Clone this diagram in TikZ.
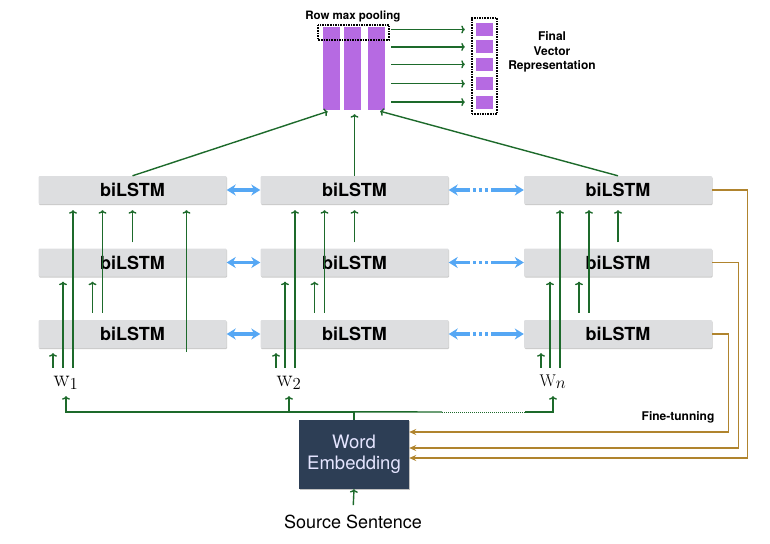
\RequirePackage{fix-cm}
\documentclass[tikz,border=0pt]{standalone}
\usepackage[no-math]{fontspec}
\setmainfont{TeX Gyre Heros}
\usepackage{xcolor}
\usepackage{tikz}
\usetikzlibrary{arrows.meta, positioning, fit, shadows, calc}
\definecolor{lstmgray}{RGB}{221, 222, 224}
\definecolor{darkgreen}{RGB}{29, 106, 43}
\definecolor{linkblue}{RGB}{85, 167, 244}
\definecolor{tunebrown}{RGB}{176, 132, 46}
\definecolor{poolpurple}{RGB}{182, 106, 226}
\definecolor{embednavy}{RGB}{45, 62, 85}

\begin{document}
\begin{tikzpicture}[
    x=1pt, y=-1pt,
    lstm/.style={rectangle, fill=lstmgray, minimum width=188pt, minimum height=28pt, rounded corners=1pt,
        drop shadow={shadow xshift=0.5pt, shadow yshift=-1pt, fill=black!35, opacity=0.6},
        font=\fontsize{18}{20}\selectfont\bfseries},
    word/.style={inner xsep=0pt, inner ysep=2pt, text height=16pt, text depth=8pt, anchor=base,
        font=\fontsize{24}{26}\selectfont},
    embed/.style={fill=embednavy, text=white!90!blue, minimum width=110pt, minimum height=69pt, align=center,
        drop shadow={shadow xshift=1pt, shadow yshift=-1pt, fill=black!40, opacity=0.6},
        font=\fontsize{18.5}{21}\selectfont},
    feed/.style={draw=darkgreen, line width=1.4pt, -{To[length=3.5pt,width=8pt]}},
    link/.style={draw=linkblue, line width=3.5pt, {Stealth[length=9pt,width=11pt]}-{Stealth[length=9pt,width=11pt]}},
    tune/.style={draw=tunebrown, line width=1.3pt, -{Stealth[length=7pt,width=6pt]}},
    pool/.style={fill=poolpurple, minimum width=17pt, minimum height=83pt, inner sep=0pt},
    cell/.style={fill=poolpurple, minimum width=17pt, minimum height=13pt, inner sep=0pt},
    dotbox/.style={draw, densely dotted, line width=1.6pt},
    title/.style={font=\fontsize{12}{14.5}\selectfont\bfseries, align=center}
]
\useasboundingbox (0,0) rectangle (770,543);

% biLSTM grid
\node[lstm] (lstm11) at (132.5,190) {biLSTM};
\node[lstm] (lstm12) at (354.5,190) {biLSTM};
\node[lstm] (lstm13) at (618,190) {biLSTM};
\node[lstm] (lstm21) at (132.5,262.5) {biLSTM};
\node[lstm] (lstm22) at (354.5,262.5) {biLSTM};
\node[lstm] (lstm23) at (618,262.5) {biLSTM};
\node[lstm] (lstm31) at (132.5,334) {biLSTM};
\node[lstm] (lstm32) at (354.5,334) {biLSTM};
\node[lstm] (lstm33) at (618,334) {biLSTM};

% input words
\node[word] (w1) at (66,386) {$\mathrm{w}_1$};
\node[word] (w2) at (289,386) {$\mathrm{w}_2$};
\node[word, font=\fontsize{17}{20}\selectfont] (wn) at (553,386) {$\mathrm{W}_{\textstyle n}$};

\node[embed] (we) at (354,454.5) {Word\\Embedding};
\node[font=\fontsize{18}{21}\selectfont, anchor=base] (src) at (353,528) {Source Sentence};

% pooling and output vector
\node[pool] (pool1) at (331.5,68.5) {};
\node[pool, right=4pt of pool1] (pool2) {};
\node[pool, right=6pt of pool2] (pool3) {};
\node[title, font=\fontsize{11.5}{14}\selectfont\bfseries, above=1pt of pool2] (pooltitle) {Row max pooling};
\draw[dotbox] ($(pool1.north west)+(-5,-2)$) rectangle ($(pool3.north east)+(4,13)$);

\node[cell] (v1) at (484.5,29.5) {};
\node[cell, below=4pt of v1] (v2) {};
\node[cell, below=4pt of v2] (v3) {};
\node[cell, below=6pt of v3] (v4) {};
\node[cell, below=5pt of v4] (v5) {};
\node[dotbox, fit=(v1)(v5), inner xsep=4pt, inner ysep=5pt] (vecbox) {};
\node[title] (vectitle) at (552,52) {Final\\Vector\\Representation};

\node[title] (tunetitle) at (678,417) {Fine-tunning};

% links between neighbours
\draw[link] (lstm11.east) -- (lstm12.west);
\draw[link] (lstm21.east) -- (lstm22.west);
\draw[link] (lstm31.east) -- (lstm32.west);
\draw[link, dash pattern=on 16pt off 3pt on 3pt off 3pt on 3pt off 3pt on 3pt off 3pt on 40pt] (lstm12.east) -- (lstm13.west);
\draw[link, dash pattern=on 16pt off 3pt on 3pt off 3pt on 3pt off 3pt on 3pt off 3pt on 40pt] (lstm22.east) -- (lstm23.west);
\draw[link, dash pattern=on 16pt off 3pt on 3pt off 3pt on 3pt off 3pt on 3pt off 3pt on 40pt] (lstm32.east) -- (lstm33.west);

% column 1
\draw[feed, shorten >=6pt] ([xshift=7pt]w1.north) -- ([xshift=7pt]w1.north |- lstm11.south);
\draw[feed, shorten >=5pt] ([xshift=-3pt]w1.north) -- ([xshift=-3pt]w1.north |- lstm21.south);
\draw[feed, shorten >=5pt] ([xshift=-13pt]w1.north) -- ([xshift=-13pt]w1.north |- lstm31.south);
\draw[feed, shorten <=7pt, shorten >=6pt] ([xshift=-30pt]lstm31.north) -- ([xshift=-30pt]lstm11.south);
\draw[feed, shorten <=7pt, shorten >=5pt] ([xshift=-40pt]lstm31.north) -- ([xshift=-40pt]lstm21.south);
\draw[feed, shorten <=6pt, shorten >=6pt] (lstm21.north) -- (lstm11.south);
\draw[feed, shorten <=-4pt, shorten >=6pt] ([xshift=54pt]lstm31.south) -- ([xshift=54pt]lstm11.south);

% column 2
\draw[feed, shorten >=6pt] ([xshift=6pt]w2.north) -- ([xshift=6pt]w2.north |- lstm12.south);
\draw[feed, shorten >=5pt] ([xshift=-4pt]w2.north) -- ([xshift=-4pt]w2.north |- lstm22.south);
\draw[feed, shorten >=5pt] ([xshift=-13pt]w2.north) -- ([xshift=-13pt]w2.north |- lstm32.south);
\draw[feed, shorten <=7pt, shorten >=6pt] ([xshift=-30pt]lstm32.north) -- ([xshift=-30pt]lstm12.south);
\draw[feed, shorten <=7pt, shorten >=5pt] ([xshift=-40pt]lstm32.north) -- ([xshift=-40pt]lstm22.south);
\draw[feed, shorten <=6pt, shorten >=6pt] (lstm22.north) -- (lstm12.south);

% column n
\draw[feed, shorten >=6pt] ([xshift=7pt]wn.north) -- ([xshift=7pt]wn.north |- lstm13.south);
\draw[feed, shorten >=5pt] ([xshift=-3pt]wn.north) -- ([xshift=-3pt]wn.north |- lstm23.south);
\draw[feed, shorten >=5pt] ([xshift=-12pt]wn.north) -- ([xshift=-12pt]wn.north |- lstm33.south);
\draw[feed, shorten <=7pt, shorten >=6pt] ([xshift=-29pt]lstm33.north) -- ([xshift=-29pt]lstm13.south);
\draw[feed, shorten <=7pt, shorten >=5pt] ([xshift=-39pt]lstm33.north) -- ([xshift=-39pt]lstm23.south);
\draw[feed, shorten <=6pt, shorten >=6pt] (lstm23.north) -- (lstm13.south);

% top layer to pooling
\draw[feed, shorten >=4pt] (lstm11.north) -- (pool1.south);
\draw[feed, shorten >=4pt] (lstm12.north) -- (lstm12.north |- pool2.south);
\draw[feed, shorten >=4pt] (lstm13.north) -- (pool3.south);

\draw[feed, shorten <=6pt, shorten >=11pt] (pool3.east |- v1) -- (v1.west);
\draw[feed, shorten <=6pt, shorten >=11pt] (pool3.east |- v2) -- (v2.west);
\draw[feed, shorten <=6pt, shorten >=11pt] (pool3.east |- v3) -- (v3.west);
\draw[feed, shorten <=6pt, shorten >=11pt] (pool3.east |- v4) -- (v4.west);
\draw[feed, shorten <=6pt, shorten >=11pt] (pool3.east |- v5) -- (v5.west);

% embedding out to the words
\draw[darkgreen, line width=1.4pt] (we.north) -- ++(0,-8) coordinate (hub);
\coordinate (gap1) at (442,412);
\coordinate (gap2) at (525,412);
\draw[feed] (hub) -| (w1.south);
\draw[feed] (hub -| w2.south) -- (w2.south);
\draw[darkgreen, line width=1.4pt] (hub) -- (gap1);
\draw[darkgreen, line width=1pt, densely dotted] (gap1) -- (gap2);
\draw[feed] (gap2) -| (wn.south);
\draw[feed, shorten <=6pt] (src.north) -- (we.south);

% fine-tuning feedback
\draw[tune] (lstm13.east) -- ++(35,0) |- ([yshift=-3.5pt]we.east);
\draw[tune] (lstm23.east) -- ++(26,0) |- ([yshift=6.5pt]we.east);
\draw[tune] (lstm33.east) -- ++(16,0) |- ([yshift=22.5pt]we.east);
\end{tikzpicture}
\end{document}
